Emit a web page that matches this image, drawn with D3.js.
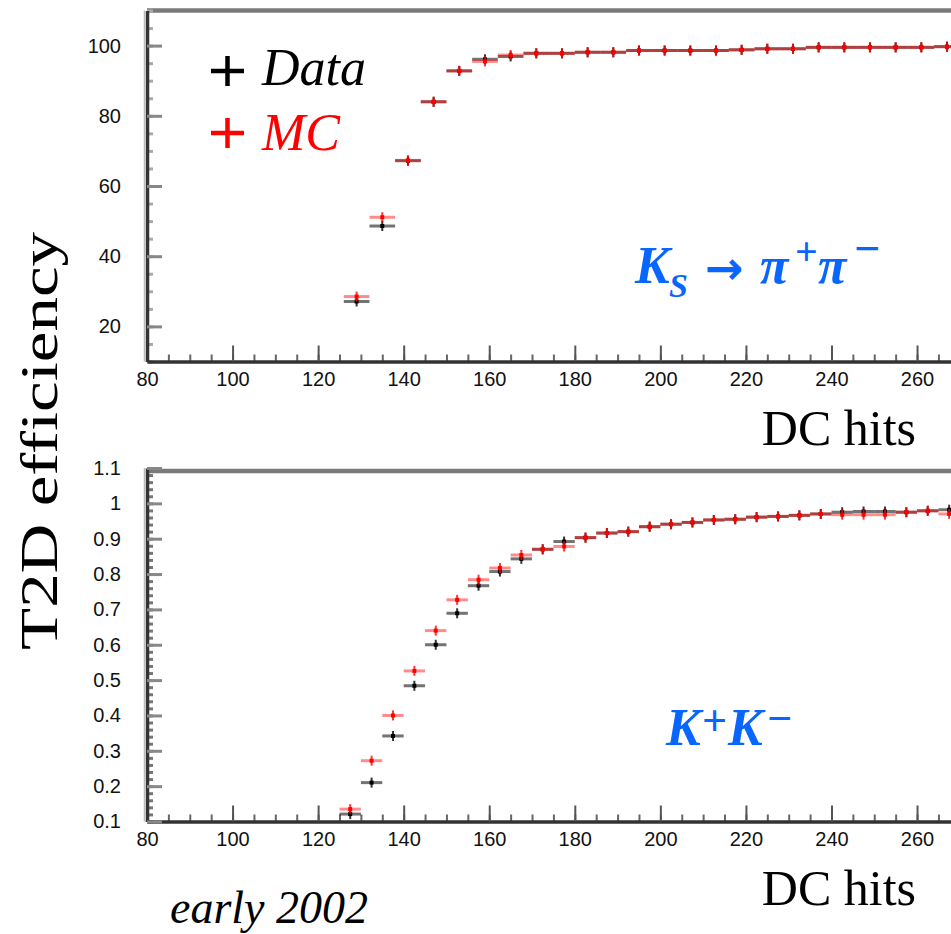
<!DOCTYPE html>
<html>
<head>
<meta charset="utf-8">
<script src="https://cdn.jsdelivr.net/npm/d3@7"></script>
<style>
  body { margin: 0; background: #fff; }
  svg { display: block; }
</style>
</head>
<body>
<div id="chart"></div>
<script>
// ---- data ----
// top panel: Ks -> pi+ pi-, bins of 6 hits
const ksHits = [129, 135, 141, 147, 153, 159, 165, 171, 177, 183, 189, 195,
                201, 207, 213, 219, 225, 231, 237, 243, 249, 255, 261, 267];
const ksData = [27.1, 48.6, 67.2, 84.0, 92.8, 96.1, 96.9, 97.8, 97.8, 98.1, 98.1, 98.6,
                98.6, 98.6, 98.6, 98.8, 99.1, 99.1, 99.5, 99.5, 99.5, 99.5, 99.5, 99.7];
const ksMC   = [28.5, 51.1, 67.3, 84.0, 92.8, 95.5, 97.3, 97.8, 97.8, 98.1, 98.1, 98.6,
                98.6, 98.6, 98.6, 98.8, 99.1, 99.1, 99.5, 99.5, 99.5, 99.5, 99.5, 99.7];

// bottom panel: K+ K-, bins of 5 hits
const kkHits = [127.5, 132.5, 137.5, 142.5, 147.5, 152.5, 157.5, 162.5, 167.5, 172.5,
                177.5, 182.5, 187.5, 192.5, 197.5, 202.5, 207.5, 212.5, 217.5, 222.5,
                227.5, 232.5, 237.5, 242.5, 247.5, 252.5, 257.5, 262.5, 267.5];
const kkData = [0.121, 0.210, 0.342, 0.484, 0.600, 0.689, 0.767, 0.807, 0.843, 0.870,
                0.892, 0.903, 0.916, 0.920, 0.934, 0.941, 0.946, 0.953, 0.955, 0.961,
                0.963, 0.966, 0.970, 0.975, 0.977, 0.977, 0.975, 0.979, 0.982];
const kkMC   = [0.135, 0.272, 0.400, 0.526, 0.640, 0.727, 0.784, 0.817, 0.854, 0.870,
                0.878, 0.903, 0.916, 0.920, 0.934, 0.941, 0.946, 0.953, 0.955, 0.961,
                0.963, 0.966, 0.970, 0.968, 0.968, 0.968, 0.975, 0.979, 0.970];

// tick labels (only the ones inside the picture)
const xTicks = [80, 100, 120, 140, 160, 180, 200, 220, 240, 260];
const ksTicks = [20, 40, 60, 80, 100];
const kkTicks = [0.1, 0.2, 0.3, 0.4, 0.5, 0.6, 0.7, 0.8, 0.9, 1.0, 1.1];
const kkTickLabels = ["0.1", "0.2", "0.3", "0.4", "0.5", "0.6", "0.7", "0.8", "0.9", "1", "1.1"];

const width = 951, height = 934;
const blue = "#0866ff";

const svg = d3.select("#chart").append("svg")
    .attr("width", width)
    .attr("height", height)
    .attr("viewBox", [0, 0, width, height]);

// same hit scale for both panels (frame runs off the right edge)
const x = d3.scaleLinear().domain([80, 300]).range([147, 147 + 220 * 4.278]);

function drawPanel(opt) {
  const y = opt.y;
  const g = svg.append("g");
  const [y0, y1] = y.range();

  // top frame line
  g.append("line")
      .attr("x1", x(80)).attr("x2", width)
      .attr("y1", y1 + opt.topOff).attr("y2", y1 + opt.topOff)
      .attr("stroke", "#7a7a7a").attr("stroke-width", 4.5);

  // minor ticks
  g.append("g")
      .attr("transform", `translate(0,${y0})`)
      .call(d3.axisBottom(x).ticks(44).tickSize(-7).tickFormat(""))
      .call(a => a.select(".domain").remove())
      .call(a => a.selectAll("line").attr("stroke", "#666").attr("stroke-width", 2));
  g.append("g")
      .attr("transform", `translate(${x(80)},0)`)
      .call(d3.axisLeft(y).ticks(opt.minor).tickSize(-6).tickFormat(""))
      .call(a => a.select(".domain").remove())
      .call(a => a.selectAll("line").attr("stroke", opt.minorColor).attr("stroke-width", 3));

  // major ticks + labels
  g.append("g")
      .attr("transform", `translate(0,${y0})`)
      .call(d3.axisBottom(x).tickValues(xTicks).tickSize(-16).tickPadding(10).tickSizeOuter(0))
      .call(a => a.select(".domain").attr("stroke", "#333").attr("stroke-width", 3.5))
      .call(a => a.selectAll(".tick line").attr("stroke", "#555").attr("stroke-width", 2))
      .call(a => a.selectAll("text")
          .attr("font-family", "Liberation Sans, Arial, sans-serif")
          .attr("font-size", 20).attr("fill", "#111"));
  g.append("g")
      .attr("transform", `translate(${x(80)},0)`)
      .call(d3.axisLeft(y).tickValues(opt.ticks).tickFormat(opt.format)
          .tickSize(-15).tickPadding(26).tickSizeOuter(0))
      .call(a => a.select(".domain").attr("stroke", "#333").attr("stroke-width", 3.5))
      .call(a => a.selectAll(".tick line").attr("stroke", "#888").attr("stroke-width", 3))
      .call(a => a.selectAll("text")
          .attr("font-family", "Liberation Sans, Arial, sans-serif")
          .attr("font-size", 20).attr("fill", "#111"));
  // soft grey edge left of the y axis line
  g.append("line")
      .attr("x1", x(80) - 2.5).attr("x2", x(80) - 2.5)
      .attr("y1", y1).attr("y2", y0)
      .attr("stroke", "#bbb").attr("stroke-width", 1.5);

  // points: black data first, red MC on top
  const series = [
    {hits: opt.hits, vals: opt.data, color: "#000", barOp: 0.55},
    {hits: opt.hits, vals: opt.mc, color: "#ff0000", barOp: 0.45}
  ];
  series.forEach(s => {
    const pts = s.hits.map((h, i) => ({h, v: s.vals[i]}));
    const pg = g.append("g");
    pg.selectAll(".hbar").data(pts).join("line")
        .attr("x1", d => x(d.h - opt.half)).attr("x2", d => x(d.h + opt.half))
        .attr("y1", d => y(d.v)).attr("y2", d => y(d.v))
        .attr("stroke", s.color).attr("stroke-opacity", s.barOp).attr("stroke-width", 3);
    pg.selectAll(".vbar").data(pts).join("line")
        .attr("x1", d => x(d.h)).attr("x2", d => x(d.h))
        .attr("y1", d => y(d.v) - 5).attr("y2", d => y(d.v) + 5)
        .attr("stroke", s.color).attr("stroke-opacity", 0.8).attr("stroke-width", 2);
    pg.selectAll(".dot").data(pts).join("rect")
        .attr("x", d => x(d.h) - 2).attr("y", d => y(d.v) - 2)
        .attr("width", 4).attr("height", 4)
        .attr("fill", s.color);
  });

  // x title
  g.append("text")
      .attr("x", 916).attr("y", y0 + 83)
      .attr("text-anchor", "end")
      .attr("font-family", "Liberation Serif, Times New Roman, serif")
      .attr("font-size", 50)
      .text("DC hits");
  return g;
}

const yTop = d3.scaleLinear().domain([10, 110]).range([361.5, 10.5]);
drawPanel({
  y: yTop, ticks: ksTicks, format: d3.format("d"), minor: 20, minorColor: "#aaa",
  hits: ksHits, data: ksData, mc: ksMC, half: 3, topOff: 0
});

const yBot = d3.scaleLinear().domain([0.1, 1.1]).range([821.5, 468]);
drawPanel({
  y: yBot, ticks: kkTicks, format: (d, i) => kkTickLabels[i], minor: 50, minorColor: "#777",
  hits: kkHits, data: kkData, mc: kkMC, half: 2.5, topOff: 3
});

// legend
const legend = [
  {label: "Data", color: "#000", cy: 71, base: 85},
  {label: "MC", color: "#ff0000", cy: 133, base: 150}
];
legend.forEach(l => {
  svg.append("line").attr("x1", 211).attr("x2", 244).attr("y1", l.cy).attr("y2", l.cy)
      .attr("stroke", l.color).attr("stroke-width", 4.5);
  svg.append("line").attr("x1", 227.5).attr("x2", 227.5).attr("y1", l.cy - 15).attr("y2", l.cy + 15)
      .attr("stroke", l.color).attr("stroke-width", 4.5);
  svg.append("text")
      .attr("x", 262).attr("y", l.base)
      .attr("font-family", "Liberation Serif, Times New Roman, serif")
      .attr("font-style", "italic").attr("font-size", 52)
      .attr("fill", l.color)
      .text(l.label);
});

// process labels
const ks = svg.append("text")
    .attr("font-family", "Liberation Serif, Times New Roman, serif")
    .attr("font-style", "italic").attr("font-weight", "bold")
    .attr("font-size", 52).attr("fill", blue);
ks.append("tspan").attr("x", 635).attr("y", 283).text("K");
ks.append("tspan").attr("x", 669).attr("y", 297).attr("font-size", 34).text("S");
ks.append("tspan").attr("x", 705).attr("y", 284).attr("font-style", "normal")
    .attr("font-family", "DejaVu Sans, sans-serif").attr("font-size", 46).text("→");
ks.append("tspan").attr("x", 760).attr("y", 283).text("π");
ks.append("tspan").attr("x", 795).attr("y", 265).attr("font-size", 40).attr("font-style", "normal").text("+");
ks.append("tspan").attr("x", 818).attr("y", 283).text("π");
ks.append("tspan").attr("x", 854).attr("y", 264).attr("font-size", 46).attr("font-style", "normal").text("−");

const kk = svg.append("text")
    .attr("font-family", "Liberation Serif, Times New Roman, serif")
    .attr("font-style", "italic").attr("font-weight", "bold")
    .attr("font-size", 52).attr("fill", blue);
kk.append("tspan").attr("x", 666).attr("y", 745).text("K");
kk.append("tspan").attr("x", 702).attr("y", 735).attr("font-size", 44).attr("font-style", "normal").text("+");
kk.append("tspan").attr("x", 728).attr("y", 745).text("K");
kk.append("tspan").attr("x", 767).attr("y", 733).attr("font-size", 44).attr("font-style", "normal").text("−");

// y title, stretched along its length like the original
svg.append("text")
    .attr("transform", "translate(57,441) rotate(-90)")
    .attr("text-anchor", "middle")
    .attr("font-family", "Liberation Serif, Times New Roman, serif")
    .attr("font-size", 52)
    .attr("textLength", 418).attr("lengthAdjust", "spacingAndGlyphs")
    .text("T2D efficiency");

// footnote
svg.append("text")
    .attr("x", 170).attr("y", 923)
    .attr("font-family", "Liberation Serif, Times New Roman, serif")
    .attr("font-style", "italic").attr("font-size", 46)
    .text("early 2002");
</script>
</body>
</html>
